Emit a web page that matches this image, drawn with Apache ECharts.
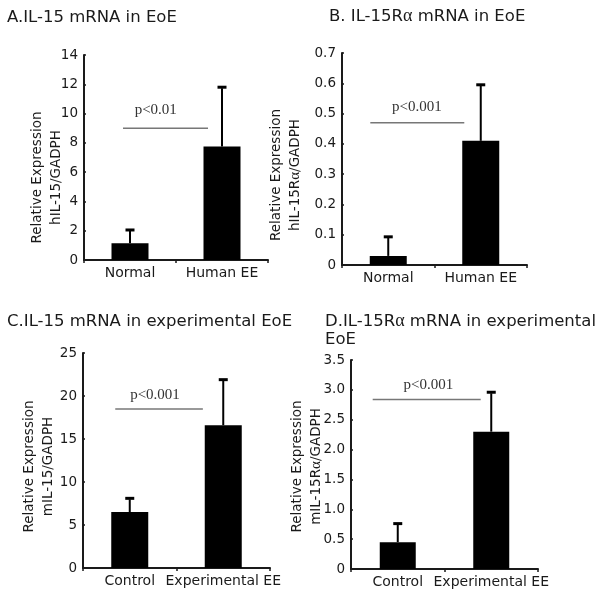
<!DOCTYPE html>
<html><head><meta charset="utf-8">
<script src="https://cdn.jsdelivr.net/npm/echarts@6.0.0/dist/echarts.min.js"></script>
<style>html,body{margin:0;padding:0;background:#fff}#c{width:601px;height:597px}</style>
</head><body><div id="c"></div>
<script>
// ---- data ----
const catsHuman = ['Normal', 'Human EE'];
const catsMouse = ['Control', 'Experimental EE'];

const meanA = [1.15, 7.75];
const sdA   = [0.9, 4.05];
const pLineA = 9.0;

const meanB = [0.03, 0.41];
const sdB   = [0.063, 0.185];
const pLineB = 0.47;

const meanC = [6.5, 16.6];
const sdC   = [1.6, 5.3];
const pLineC = 18.5;

const meanD = [0.45, 2.3];
const sdD   = [0.31, 0.66];
const pLineD = 2.84;

const panels = [
  {title: 'A.IL-15 mRNA in EoE', cats: catsHuman, mean: meanA, sd: sdA, p: pLineA, pText: 'p<0.01',
   yMax: 14, yInt: 2, yName: 'Relative Expression\nhIL-15/GADPH'},
  {title: 'B. IL-15R{a|α} mRNA in EoE', cats: catsHuman, mean: meanB, sd: sdB, p: pLineB, pText: 'p<0.001',
   yMax: 0.7, yInt: 0.1, yName: 'Relative Expression\nhIL-15R{a|α}/GADPH'},
  {title: 'C.IL-15 mRNA in experimental EoE', cats: catsMouse, mean: meanC, sd: sdC, p: pLineC, pText: 'p<0.001',
   yMax: 25, yInt: 5, yName: 'Relative Expression\nmIL-15/GADPH'},
  {title: 'D.IL-15R{a|α} mRNA in experimental\nEoE', cats: catsMouse, mean: meanD, sd: sdD, p: pLineD, pText: 'p<0.001',
   yMax: 3.5, yInt: 0.5, yName: 'Relative Expression\nmIL-15R{a|α}/GADPH', fixed1: true}
];

// ---- layout (positions / sizes) ----
const layout = [
  {grid: {left: 84, top: 55, width: 184, height: 205}, title: {left: 7, top: 8.5}, nameGap: 18, nameShift: 20,
   pX: [-0.076, 0.848], pLabelX: 0.28, pLabelDy: 18, barWidth: 37},
  {grid: {left: 342, top: 53, width: 185, height: 212}, title: {left: 329, top: 8}, nameGap: 37, nameShift: 16,
   pX: [-0.194, 0.822], pLabelX: 0.31, pLabelDy: 16, barWidth: 37},
  {grid: {left: 83, top: 353, width: 187, height: 215}, title: {left: 7, top: 313}, nameGap: 25.5, nameShift: 6,
   pX: [-0.155, 0.782], pLabelX: 0.27, pLabelDy: 14, barWidth: 37},
  {grid: {left: 351, top: 360, width: 187, height: 209}, title: {left: 325, top: 313}, nameGap: 25, nameShift: 2,
   pX: [-0.268, 0.887], pLabelX: 0.327, pLabelDy: 14, barWidth: 36}
];

const SANS = '"DejaVu Sans", Verdana, sans-serif';
const SERIF = '"Liberation Serif", "Times New Roman", serif';
const INK = '#1a1a1a';

const option = {backgroundColor: '#fff', animation: false, title: [], grid: [], xAxis: [], yAxis: [], series: []};

panels.forEach((p, i) => {
  const L = layout[i];
  option.title.push({
    text: p.title, left: L.title.left, top: L.title.top, padding: 0,
    textStyle: {fontFamily: SANS, fontSize: 16.5, fontWeight: 'normal', color: INK, lineHeight: 17.5,
      rich: {a: {fontFamily: SERIF, fontSize: 18, color: INK}}}
  });
  option.grid.push(Object.assign({containLabel: false}, L.grid));
  option.xAxis.push({
    type: 'category', gridIndex: i, data: p.cats,
    axisLine: {lineStyle: {color: INK, width: 2}},
    axisTick: {show: true, length: 3, lineStyle: {color: INK, width: 1.5}},
    axisLabel: {interval: 0, hideOverlap: false, fontFamily: SANS, fontSize: 14, color: INK, margin: 6}
  });
  option.yAxis.push({
    type: 'value', gridIndex: i, min: 0, max: p.yMax, interval: p.yInt,
    splitLine: {show: false},
    axisLine: {show: true, lineStyle: {color: INK, width: 2}},
    axisTick: {show: true, inside: true, length: 2, lineStyle: {color: INK, width: 1.5}},
    axisLabel: {fontFamily: SANS, fontSize: 13.5, color: INK, margin: 6,
      formatter: v => v === 0 ? '0' : (p.fixed1 ? v.toFixed(1) : String(+v.toFixed(2)))},
    name: p.yName, nameLocation: 'middle', nameRotate: 90, nameGap: L.nameGap, nameMoveOverlap: false,
    nameTextStyle: {fontFamily: SANS, fontSize: 13.5, color: INK, lineHeight: 19,
      padding: [0, 2 * L.nameShift, 0, 0],
      rich: {a: {fontFamily: SERIF, fontSize: 15, color: INK}}}
  });
  option.series.push({
    type: 'bar', xAxisIndex: i, yAxisIndex: i, data: p.mean, barWidth: L.barWidth,
    itemStyle: {color: '#000'}, z: 2
  });
  option.series.push({
    type: 'custom', xAxisIndex: i, yAxisIndex: i, z: 3,
    data: p.mean.map((m, k) => [k, m, p.sd[k]]),
    encode: {x: 0, y: 1},
    renderItem: (params, api) => {
      const x = api.value(0), m = api.value(1), s = api.value(2);
      const p0 = api.coord([x, m]), p1 = api.coord([x, m + s]);
      return {type: 'group', children: [
        {type: 'line', shape: {x1: p0[0], y1: p0[1], x2: p1[0], y2: p1[1] + 1}, style: {stroke: '#000', lineWidth: 2}},
        {type: 'line', shape: {x1: p1[0] - 4.5, y1: p1[1], x2: p1[0] + 4.5, y2: p1[1]}, style: {stroke: '#000', lineWidth: 3}}
      ]};
    }
  });
  option.series.push({
    type: 'custom', xAxisIndex: i, yAxisIndex: i, z: 4,
    data: [[0, p.p]], encode: {x: 0, y: 1},
    renderItem: (params, api) => {
      const c = api.coord([0, api.value(1)]);
      const band = api.size([1, 0])[0];
      return {type: 'group', children: [
        {type: 'line', shape: {x1: c[0] + L.pX[0] * band, y1: c[1], x2: c[0] + L.pX[1] * band, y2: c[1]},
         style: {stroke: '#777', lineWidth: 1.5}},
        {type: 'text', style: {text: p.pText, x: c[0] + L.pLabelX * band, y: c[1] - L.pLabelDy,
         align: 'center', verticalAlign: 'middle', fontFamily: SERIF, fontSize: 15, fill: '#333'}}
      ]};
    }
  });
});

const chart = echarts.init(document.getElementById('c'), null, {renderer: 'canvas'});
chart.setOption(option);
</script>
</body></html>
